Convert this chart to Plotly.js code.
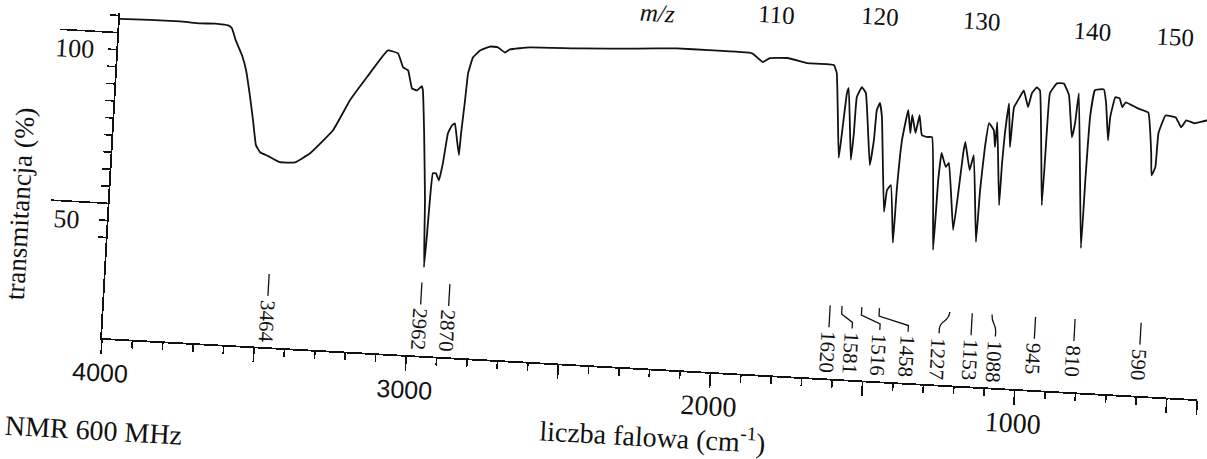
<!DOCTYPE html>
<html>
<head>
<meta charset="utf-8">
<script src="https://cdn.plot.ly/plotly-3.0.1.min.js"></script>
<style>
html,body{margin:0;padding:0;overflow:hidden;background:#fff;width:1207px;height:459px;}
#chart{position:absolute;left:-40px;top:-60px;width:1300px;height:580px;transform:rotate(3.2deg);transform-origin:142px 398px;}
</style>
</head>
<body>
<div id="chart"></div>
<script>
// IR spectrum: wavenumber (cm-1) and transmittance (%)
const wavenumber = [
  4000,3901,3803,3737,3687,3644,3631,3616,3593,3577,
  3560,3545,3531,3516,3489,3449,3400,3352,3281,3231,
  3180,3116,3082,3063,3046,3030,3013,2998,2994,2982,
  2967,2958,2954,2951,2946,2936,2925,2915,2904,2892,
  2883,2873,2864,2861,2854,2849,2836,2814,2782,2756,
  2732,2716,2651,2487,2300,2170,2064,1922,1885,1863,
  1805,1740,1652,1641,1619,1613,1604,1599,1579,1574,
  1571,1556,1542,1516,1507,1503,1494,1485,1461,1455,
  1443,1426,1423,1415,1400,1389,1386,1372,1362,1351,
  1334,1317,1293,1289,1283,1267,1257,1231,1221,1212,
  1207,1188,1177,1154,1150,1142,1133,1116,1109,1106,
  1085,1083,1079,1071,1060,1054,1039,1025,1008,998,
  983,972,945,942,939,918,895,876,859,851,
  844,809,807,803,792,763,753,740,737,724,
  710,699,689,648,613,596,591,580,576,556,
  522,503,487,460,420,400
];
const transmittance = [
  104.0,104.2,104.3,104.0,104.2,103.9,103.1,99.6,95.4,91.1,
  83.8,76.6,69.4,67.4,66.4,64.8,65.0,67.9,75.0,84.0,
  91.0,99.2,98.5,94.5,93.7,88.5,88.0,89.3,88.1,75.6,
  56.1,36.5,46.5,56.2,64.1,64.1,62.1,67.2,76.0,78.4,
  79.0,74.1,69.8,76.2,85.9,93.8,98.5,100.7,102.0,101.9,
  100.5,101.5,102.4,102.9,103.8,104.5,104.5,104.3,101.9,103.2,
  103.5,102.3,102.2,99.9,75.2,82.5,94.2,95.7,74.8,82.7,
  93.2,96.2,94.6,73.6,81.0,89.8,91.9,87.8,60.2,66.6,
  68.1,51.3,66.8,81.4,90.3,83.6,88.9,83.7,89.0,83.2,
  82.7,82.8,49.9,70.3,78.3,74.3,75.5,56.0,66.9,78.6,
  81.9,73.8,78.2,52.9,68.1,80.7,87.8,85.8,80.9,88.2,
  64.0,76.3,85.1,93.9,81.1,92.8,95.5,97.9,93.1,97.2,
  99.0,98.2,64.7,86.7,97.5,100.5,100.6,97.2,85.0,89.2,
  98.0,52.8,72.7,91.2,99.1,99.5,95.5,84.7,91.5,97.4,
  97.2,94.6,96.1,94.5,93.5,81.6,75.2,77.6,87.6,92.9,
  92.5,89.7,91.8,91.1,92.1,92.0
];

// labelled absorption bands
const peakPositions = [3464,2962,2870,1620,1581,1516,1458,1227,1153,1088,945,810,590];
const peakLabels = ['3464','2962','2870','1620','1581','1516','1458','1227','1153','1088','945','810','590'];
// style: horizontal displacement of crowded labels (cm-1) and leader style
const labelOffsets = [0,0,0,0,-37,-63,-98,31,0,-15,0,5,8];
const leaderStyles = ['s','s','s','s','bend','bend','bend','curve','s','curve','s','s','s'];

// axis ticks
const xMajorTicks = [4000,3500,3000,2500,2000,1500,1000,500,400];
const xTickLabels = ['4000','','3000','','2000','','1000','',''];
const sansTickLabels = ['4000','3000'];
const yMajorTicks = [50,100];
const yMajorLabels = ['50','100'];
const yMinorTicks = [40,45,50,55,60,65,70,75,80,85,90,95,100,105];

// fragments of neighbouring content on the scanned page
const topFragments = ['<i>m/z</i>','110','120','130','140','150'];

const ink = '#111';
const serif = 'Liberation Serif, Times New Roman, serif';

const xTickText = xTickLabels.map(t => sansTickLabels.includes(t)
  ? '<span style="font-family:Liberation Sans;font-size:25px">'+t+'</span>' : t);

const trace = {
  x: wavenumber, y: transmittance, type:'scatter', mode:'lines',
  line:{color:ink, width:1.8, shape:'spline', smoothing:0.3}, hoverinfo:'skip'
};

const LT = 32, LB = 25.6, LABTOP = 25;
const shapes = [];
const annotations = [];
peakPositions.forEach((p,i)=>{
  const q = p + labelOffsets[i];
  let path;
  if (leaderStyles[i]==='s') {
    path = `M ${q},${LT} L ${q},${LB}`;
  } else if (leaderStyles[i]==='bend') {
    path = `M ${p},${LT} L ${p},${LT-2.3} L ${q},${LT-4.6} L ${q},${LB}`;
  } else {
    path = `M ${p},${LT} C ${p},${LT-3} ${q},${LT-2.5} ${q},${LT-5} L ${q},${LB}`;
  }
  shapes.push({type:'path', xref:'x', yref:'y', path:path, line:{color:ink, width:1.3}});
  annotations.push({x:q, y:LABTOP, xref:'x', yref:'y', text:peakLabels[i], showarrow:false,
    textangle:90, xanchor:'center', yanchor:'top', font:{family:serif, size:21, color:ink}});
});

// y tick labels (printed below their long tick lines)
yMajorTicks.forEach((v,i)=>{
  annotations.push({x:0, xref:'paper', y:v, yref:'y', text:yMajorLabels[i], showarrow:false,
    xanchor:'right', yanchor:'middle', xshift: (v===100?-22:-27), yshift:-18,
    font:{family:serif, size:26, color:ink}});
});

// axis titles
annotations.push({x:0.5056, y:-0.206, xref:'paper', yref:'paper', text:'liczba falowa (cm<sup>-1</sup>)',
  showarrow:false, xanchor:'center', yanchor:'middle', font:{family:serif, size:28, color:ink}});
annotations.push({x:-0.0813, y:0.40, xref:'paper', yref:'paper', text:'transmitancja (%)',
  showarrow:false, textangle:-90, xanchor:'center', yanchor:'middle', font:{family:serif, size:27, color:ink}});

// fragments of the page around the chart
const fragPos = [[0.4892,1.093],[0.5978,1.108],[0.6922,1.122],[0.7846,1.125],[0.8864,1.113],[0.9613,1.109]];
topFragments.forEach((t,i)=>{
  annotations.push({x:fragPos[i][0], y:fragPos[i][1], xref:'paper', yref:'paper', text:t, showarrow:false,
    xanchor:'center', yanchor:'middle', font:{family:serif, size:25, color:ink}});
});
annotations.push({x:-0.0857, y:-0.338, xref:'paper', yref:'paper', text:'NMR 600 MHz', showarrow:false,
  xanchor:'left', yanchor:'bottom', font:{family:serif, size:28, color:ink}});

const layout = {
  width:1300, height:580,
  margin:{l:142, r:61, t:73, b:182},
  paper_bgcolor:'rgba(0,0,0,0)', plot_bgcolor:'rgba(0,0,0,0)',
  showlegend:false,
  font:{family:serif, color:ink},
  xaxis:{
    range:[4000,400], showline:true, linecolor:ink, linewidth:1.8, mirror:false,
    showgrid:false, zeroline:false,
    ticks:'outside', tickmode:'array', tickvals:xMajorTicks, ticktext:xTickText,
    ticklen:14, tickwidth:1.6, tickcolor:ink, ticklabelstandoff:-6,
    tickfont:{family:serif, size:28, color:ink},
    minor:{tickmode:'linear', tick0:0, dtick:100, ticks:'outside', ticklen:7, tickwidth:1.6, tickcolor:ink, showgrid:false}
  },
  yaxis:{
    range:[10.6,105.6], showline:true, linecolor:ink, linewidth:1.8, mirror:false,
    showgrid:false, zeroline:false,
    ticks:'outside', tickmode:'array', tickvals:yMajorTicks, ticklen:57, tickwidth:1.6, tickcolor:ink,
    showticklabels:false,
    minor:{tickmode:'array', tickvals:yMinorTicks, ticks:'outside', ticklen:8, tickwidth:1.6, tickcolor:ink, showgrid:false}
  },
  shapes:shapes,
  annotations:annotations
};

Plotly.newPlot('chart',[trace],layout,{staticPlot:true, displayModeBar:false});
</script>
</body>
</html>
